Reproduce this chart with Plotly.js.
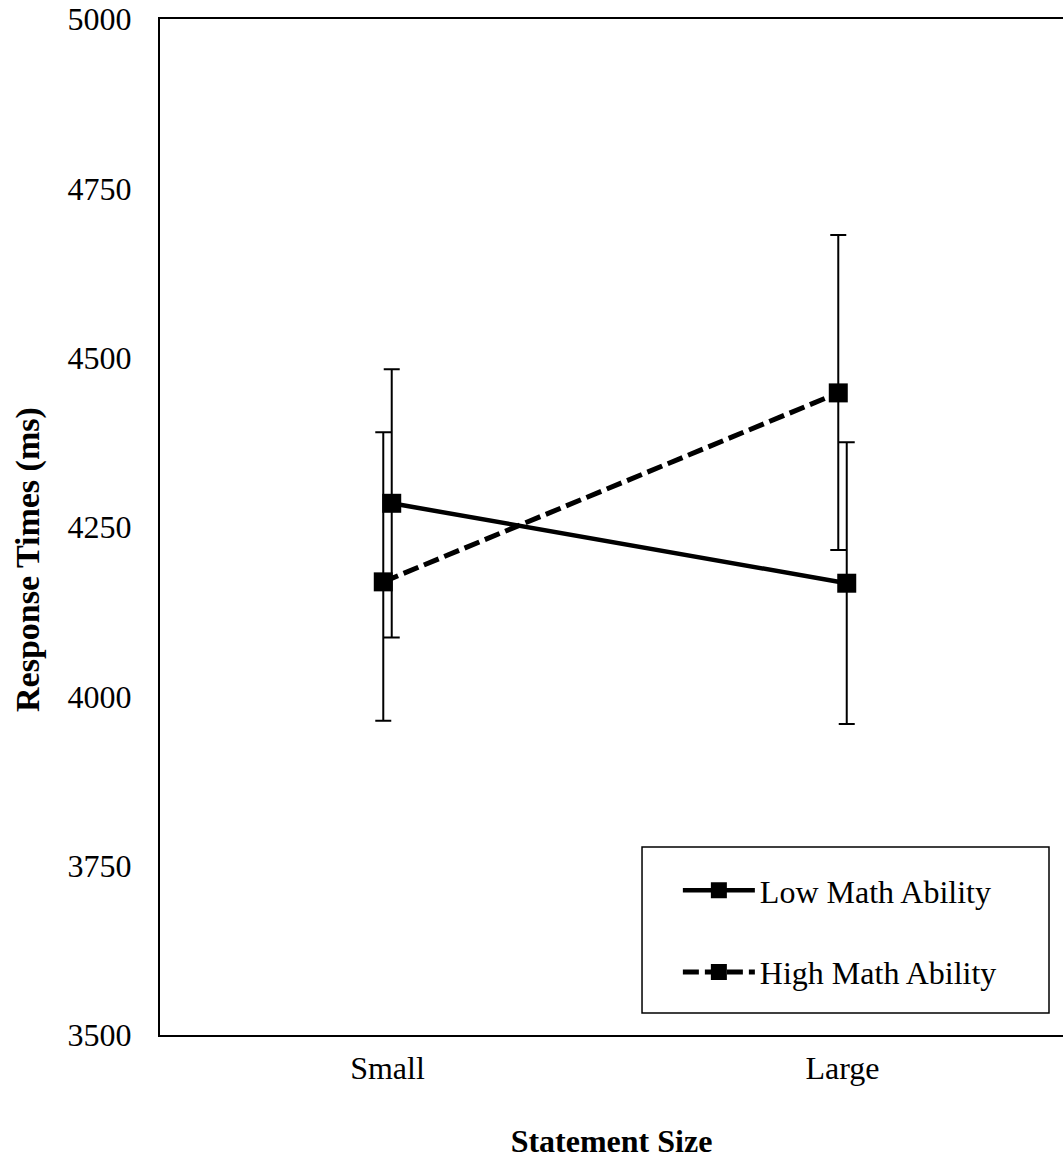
<!DOCTYPE html>
<html><head><meta charset="utf-8">
<script src="https://cdn.plot.ly/plotly-3.0.1.min.js"></script>
<style>body{margin:0;background:#fff}</style>
</head><body>
<div id="chart" style="width:1063px;height:1163px"></div>
<script>
const categories = ["Small", "Large"];
const seriesNames = ["Low Math Ability", "High Math Ability"];
const lowMath = [4285, 4167];
const highMath = [4169, 4448];
const lowErrPlus = [198, 208];
const lowErrMinus = [198, 208];
const highErrPlus = [221, 233];
const highErrMinus = [205, 232];
const yTickVals = [3500, 3750, 4000, 4250, 4500, 4750, 5000];
const yTickText = ["3500", "3750", "4000", "4250", "4500", "4750", "5000"];
const xTitle = "Statement Size";
const yTitle = "Response Times (ms)";

const FONT = "Liberation Serif, Times New Roman, serif";
const shift = 0.0093; // small horizontal dodge between series
const idx = categories.map((c, i) => i);

const traces = [
  {
    x: idx.map(i => i + shift), y: lowMath, name: seriesNames[0], legendgroup: "low",
    type: "scatter", mode: "lines+markers",
    line: {color: "#000", width: 4.5},
    marker: {symbol: "square", size: 19, color: "#000"},
    error_y: {type: "data", symmetric: false, array: lowErrPlus, arrayminus: lowErrMinus,
              color: "#000", thickness: 2, width: 8},
    hoverinfo: "skip"
  },
  {
    x: idx.map(i => i - shift), y: highMath, name: seriesNames[1], legendgroup: "high",
    type: "scatter", mode: "lines+markers",
    line: {color: "#000", width: 5, dash: "16px,6px"},
    marker: {symbol: "square", size: 19, color: "#000"},
    error_y: {type: "data", symmetric: false, array: highErrPlus, arrayminus: highErrMinus,
              color: "#000", thickness: 2, width: 8},
    hoverinfo: "skip"
  }
];

const layout = {
  width: 1063, height: 1163,
  margin: {l: 160, r: 0, t: 19, b: 128, pad: 0},
  paper_bgcolor: "#fff", plot_bgcolor: "#fff",
  font: {family: FONT, color: "#000", size: 32},
  showlegend: true,
  xaxis: {
    range: [-0.5, 1.4846], tickvals: idx, ticktext: categories,
    showline: true, mirror: true, linecolor: "#000", linewidth: 2,
    showgrid: false, zeroline: false, ticks: "", ticklabelstandoff: 4,
    tickfont: {family: FONT, size: 32, color: "#000"},
    title: {text: xTitle, font: {family: FONT, size: 32, color: "#000", weight: "bold"}, standoff: 44}
  },
  yaxis: {
    range: [3500, 5000], tickvals: yTickVals, ticktext: yTickText,
    showline: true, linecolor: "#000", linewidth: 2,
    showgrid: false, zeroline: false, ticks: "", ticklabelstandoff: 20,
    tickfont: {family: FONT, size: 32, color: "#000"}
  },
  annotations: [{
    text: yTitle, xref: "paper", yref: "paper", x: -0.1462, y: 0.4685,
    xanchor: "center", yanchor: "middle", textangle: -90, showarrow: false,
    font: {family: FONT, size: 34, color: "#000", weight: "bold"}
  }],
  shapes: [{
    type: "rect", xref: "paper", yref: "paper",
    x0: 0.5338, x1: 0.9845, y0: 0.0217, y1: 0.185,
    line: {color: "#000", width: 1.5}, fillcolor: "rgba(0,0,0,0)", layer: "above"
  }],
  legend: {
    x: 0.5735, xanchor: "left", y: 0.1693, yanchor: "top",
    borderwidth: 0, bgcolor: "rgba(0,0,0,0)",
    font: {family: FONT, size: 32, color: "#000"},
    tracegroupgap: 37, itemwidth: 72
  }
};

Plotly.newPlot("chart", traces, layout, {staticPlot: true, displayModeBar: false});
</script>
</body></html>
